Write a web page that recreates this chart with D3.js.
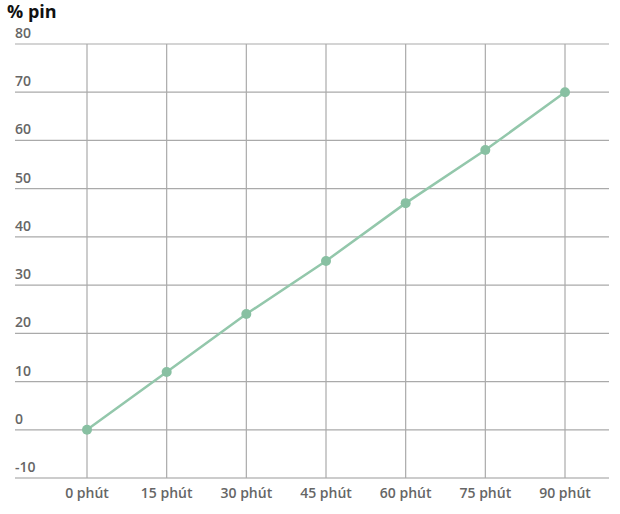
<!DOCTYPE html>
<html>
<head>
<meta charset="utf-8">
<script src="https://cdn.jsdelivr.net/npm/d3@7"></script>
<style>
  body { margin: 0; background: #fff; }
  svg { display: block; font-family: "Open Sans", "Noto Sans", sans-serif; }
</style>
</head>
<body>
<svg width="620" height="514"></svg>
<script>
const categories = ['0 phút', '15 phút', '30 phút', '45 phút', '60 phút', '75 phút', '90 phút'];
const values = [0, 12, 24, 35, 47, 58, 70];
const yTicks = [-10, 0, 10, 20, 30, 40, 50, 60, 70, 80];

const svg = d3.select('svg');
const gLeft = 15, gRight = 609, gTop = 44, gBottom = 478;

const x = d3.scalePoint()
  .domain(categories)
  .range([87, 565]);
const y = d3.scaleLinear()
  .domain([-10, 80])
  .range([gBottom, gTop]);

// horizontal grid
svg.append('g')
  .selectAll('line')
  .data(yTicks)
  .join('line')
  .attr('x1', gLeft)
  .attr('x2', gRight)
  .attr('y1', d => y(d))
  .attr('y2', d => y(d))
  .attr('stroke', d => d === -10 ? '#999' : '#aaa')
  .attr('stroke-width', 1.2);

// vertical grid
svg.append('g')
  .selectAll('line')
  .data(categories)
  .join('line')
  .attr('x1', d => x(d))
  .attr('x2', d => x(d))
  .attr('y1', gTop)
  .attr('y2', gBottom)
  .attr('stroke', '#aaa')
  .attr('stroke-width', 1.2);

// y labels
svg.append('g')
  .selectAll('text')
  .data(yTicks)
  .join('text')
  .attr('x', gLeft)
  .attr('y', d => y(d) - 6)
  .attr('fill', '#666')
  .attr('font-size', 14)
  .attr('font-weight', 600)
  .text(d => d);

// x labels
svg.append('g')
  .selectAll('text')
  .data(categories)
  .join('text')
  .attr('x', d => x(d))
  .attr('y', 498)
  .attr('text-anchor', 'middle')
  .attr('fill', '#666')
  .attr('font-size', 14)
  .attr('font-weight', 600)
  .text(d => d);

svg.append('text')
  .attr('x', 7)
  .attr('y', 18)
  .attr('font-size', 18)
  .attr('font-weight', 700)
  .attr('fill', '#111')
  .text('% pin');

const pts = categories.map((c, i) => [c, values[i]]);
svg.append('path')
  .datum(pts)
  .attr('fill', 'none')
  .attr('stroke', '#93c7ab')
  .attr('stroke-width', 2.5)
  .attr('d', d3.line().x(d => x(d[0])).y(d => y(d[1])));

svg.append('g')
  .selectAll('circle')
  .data(pts)
  .join('circle')
  .attr('cx', d => x(d[0]))
  .attr('cy', d => y(d[1]))
  .attr('r', 5)
  .attr('fill', '#88c0a2');
</script>
</body>
</html>
